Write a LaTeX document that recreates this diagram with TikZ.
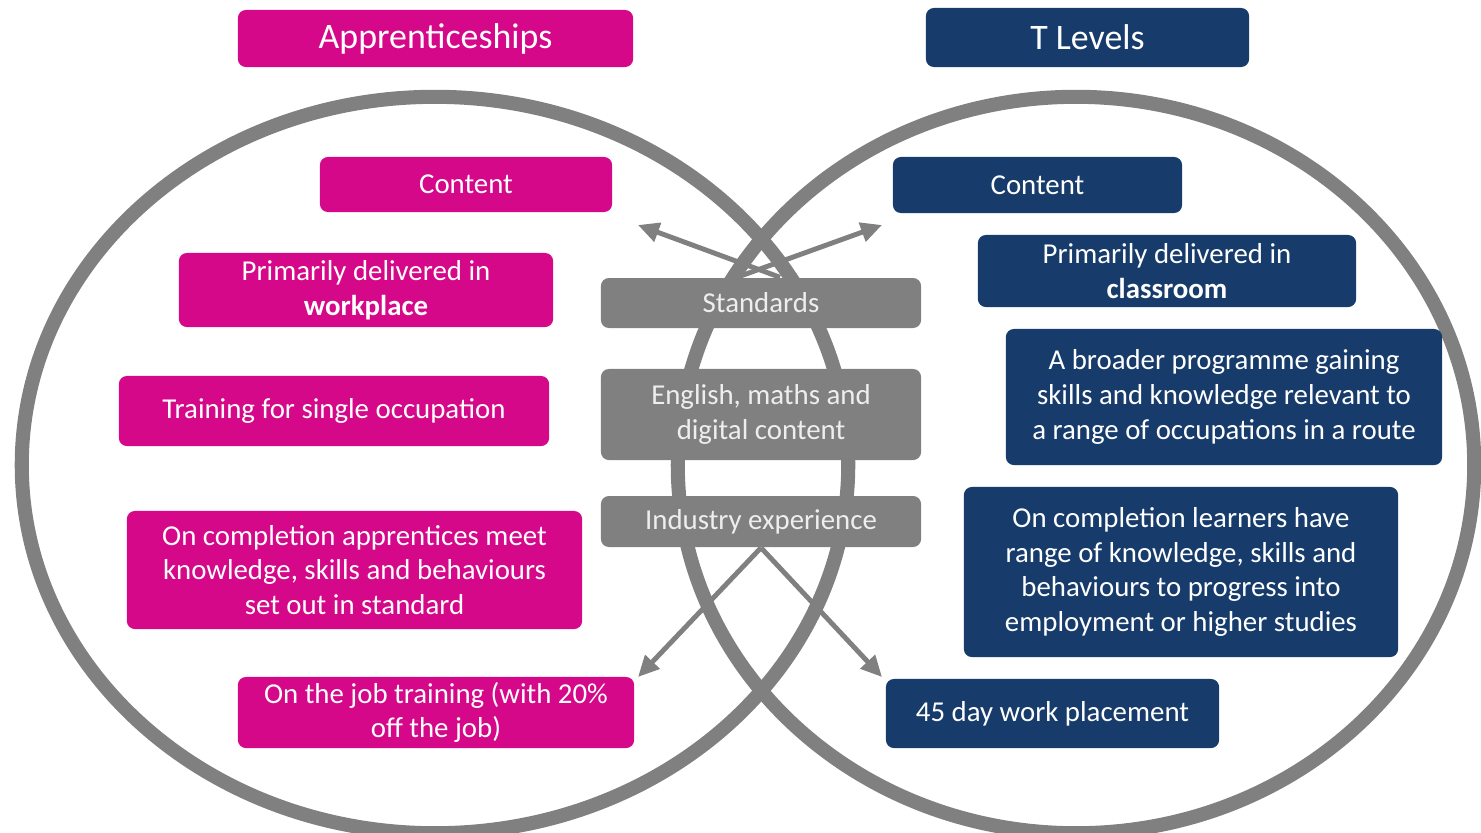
\documentclass[tikz,border=0pt]{standalone}
\usepackage{fontspec}
\setmainfont{Carlito}
\usetikzlibrary{arrows.meta}
\definecolor{appmag}{RGB}{214,8,138}
\definecolor{tlnavy}{RGB}{23,60,107}
\definecolor{coregray}{RGB}{128,128,128}
\definecolor{coretext}{RGB}{238,238,238}
\newcommand{\boxfont}{\fontsize{8.2}{9.9}\selectfont}
\newcommand{\titlefont}{\fontsize{10.2}{12}\selectfont}
\begin{document}
\begin{tikzpicture}[x=0.01cm, y=-0.01cm,
    box/.style={rounded corners=0.08cm, text=white, align=center, inner sep=0pt, font=\boxfont},
    appbox/.style={box, fill=appmag},
    tlbox/.style={box, fill=tlnavy},
    corebox/.style={box, fill=coregray, text=coretext, minimum width=3.2cm},
    core arrow/.style={draw=coregray, line width=1.4pt, -{Triangle[length=6pt, width=5.5pt]}}]
    \useasboundingbox (0,0) rectangle (1481,832);
    \clip (0,0) rectangle (1481,832);
    % the two circles
    \draw[coregray, line width=4pt] (435,465) ellipse [x radius=4.13cm, y radius=3.68cm];
    \draw[coregray, line width=4pt] (1076,465) ellipse [x radius=3.98cm, y radius=3.68cm];
    % titles
    \node[appbox, minimum width=3.95cm, minimum height=0.57cm, font=\titlefont] (apptitle) at (435.5,38.5) {Apprenticeships};
    \node[tlbox, minimum width=3.23cm, minimum height=0.59cm, font=\titlefont] (tltitle) at (1087.5,37.5) {T Levels};
    % apprenticeships
    \node[appbox, minimum width=2.92cm, minimum height=0.55cm] (appcontent) at (466,184.5) {Content};
    \node[appbox, minimum width=3.74cm, minimum height=0.74cm] (appplace) at (366,290) {Primarily delivered in\\\textbf{workplace}};
    \node[appbox, minimum width=4.30cm, minimum height=0.70cm] (apptraining) at (334,411) {Training for single occupation};
    \node[appbox, minimum width=4.55cm, minimum height=1.18cm] (appcompl) at (354.5,570) {On completion apprentices meet\\knowledge, skills and behaviours\\set out in standard};
    \node[appbox, minimum width=3.96cm, minimum height=0.71cm] (appjob) at (436,712.5) {On the job training (with 20\%\\off the job)};
    % t levels
    \node[tlbox, minimum width=2.89cm, minimum height=0.56cm] (tlcontent) at (1037.5,185) {Content};
    \node[tlbox, minimum width=3.78cm, minimum height=0.72cm] (tlplace) at (1167,271) {Primarily delivered in\\\textbf{classroom}};
    \node[tlbox, minimum width=4.36cm, minimum height=1.36cm] (tlbroad) at (1224,397) {A broader programme gaining\\skills and knowledge relevant to\\a range of occupations in a route};
    \node[tlbox, minimum width=4.34cm, minimum height=1.70cm] (tlcompl) at (1181,572) {On completion learners have\\range of knowledge, skills and\\behaviours to progress into\\employment or higher studies};
    \node[tlbox, minimum width=3.33cm, minimum height=0.69cm] (tlplacement) at (1052.5,713.5) {45 day work placement};
    % shared core
    \coordinate (stdL) at (638,225);
    \coordinate (stdR) at (882,225);
    \coordinate (indL) at (638,677);
    \coordinate (indR) at (882,677);
    \node[corebox, minimum height=0.50cm] (standards) at (761,303) {Standards};
    \node[corebox, minimum height=0.91cm] (english) at (761,414.5) {English, maths and\\digital content};
    \node[corebox, minimum height=0.51cm] (industry) at (761,521.5) {Industry experience};
    \draw[core arrow] ([xshift=0.19cm]standards.north) -- (stdL);
    \draw[core arrow] ([xshift=-0.24cm]standards.north) -- (stdR);
    \draw[core arrow] (industry.south) -- (indL);
    \draw[core arrow] (industry.south) -- (indR);
\end{tikzpicture}
\end{document}
